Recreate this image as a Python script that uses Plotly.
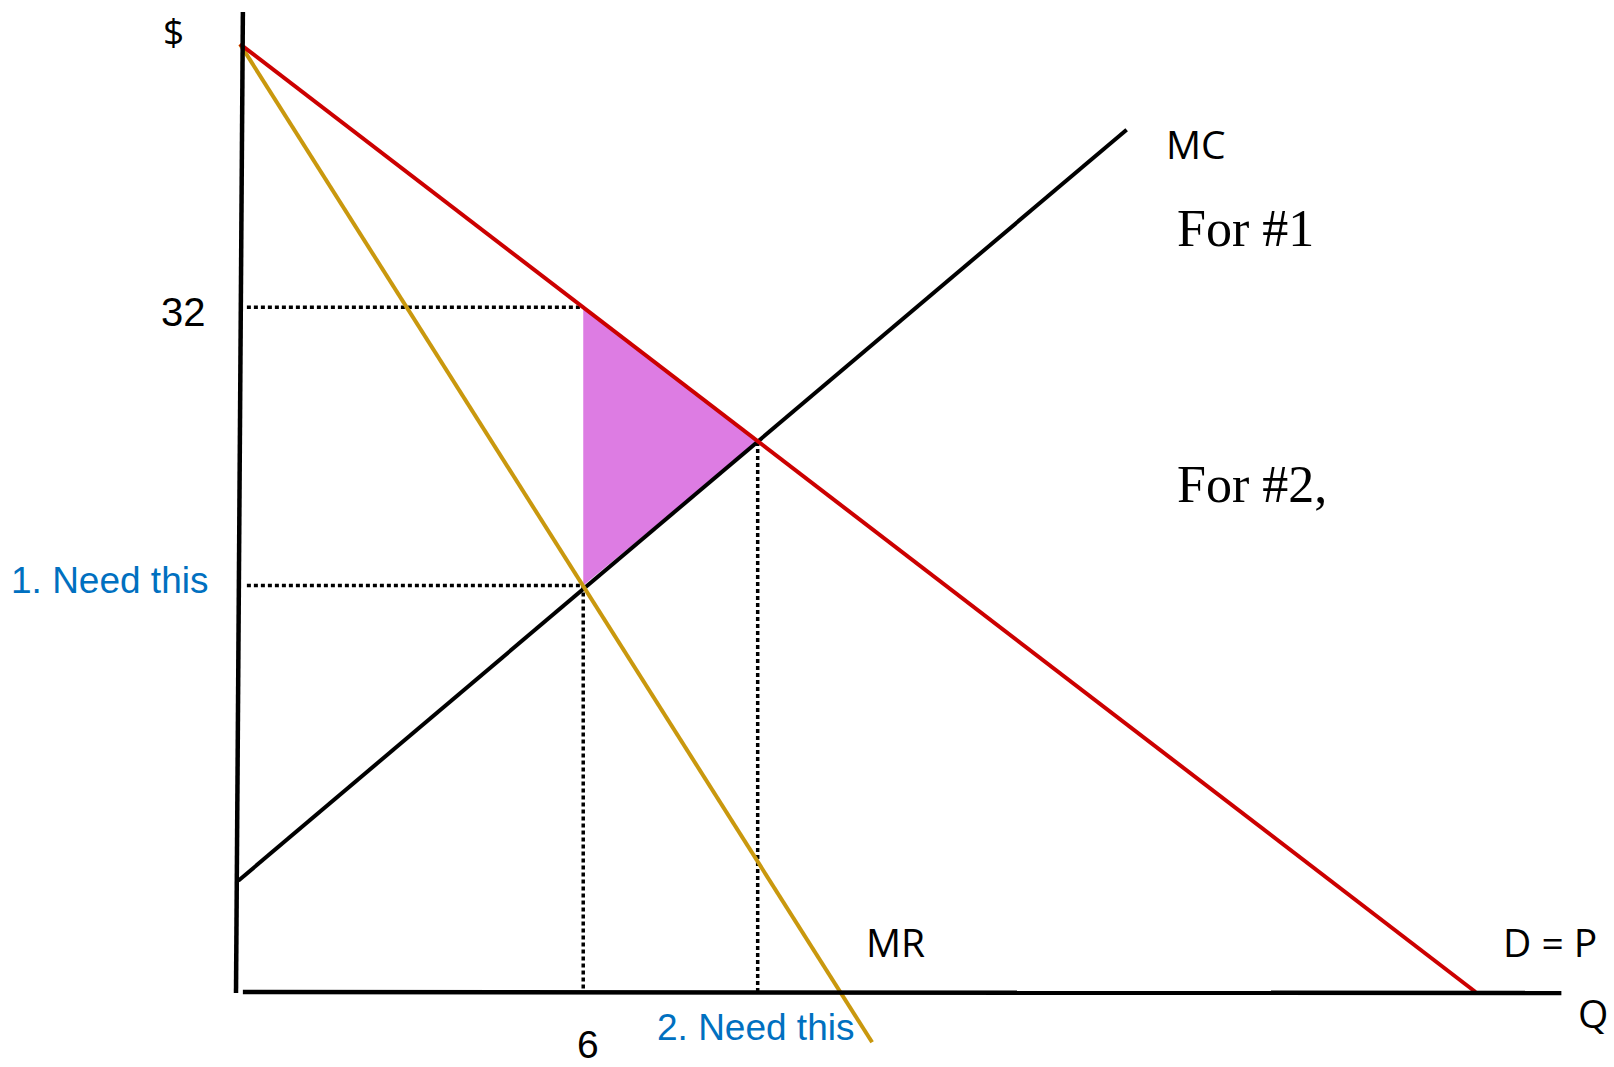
import plotly.graph_objects as go

# ---- data (arbitrary Q / $ units) ----
demand_q = [0.0, 21.6]
demand_p = [44.3, 0.0]
mr_q = [0.0, 11.05]
mr_p = [44.3, -2.35]
mc_q = [-0.03, 15.5]
mc_p = [5.2, 40.3]

yaxis_q = [-0.07, 0.05]
yaxis_p = [-0.05, 45.8]
xaxis_q = [0.05, 23.1]
xaxis_p = [0.0, -0.05]

q_mono = 6.0
p_mono = 32.0
mc_at_mono = 19.0
q_eff = 9.05
p_eff = 25.7
dot_start_q = 0.12

dwl_q = [q_mono, q_eff, q_mono, q_mono]
dwl_p = [p_mono, p_eff, mc_at_mono, p_mono]

tick_y_label = "32"
tick_x_label = "6"

RED = "#CC0000"
GOLD = "#C9980E"
MAGENTA = "#DD7CE3"
BLUE = "#0070C0"

fig = go.Figure()

# deadweight-loss triangle
fig.add_trace(go.Scatter(x=dwl_q, y=dwl_p, mode="lines", fill="toself",
                         fillcolor=MAGENTA, line=dict(width=0, color=MAGENTA),
                         hoverinfo="skip", showlegend=False))

dot = "4px,3px"
DW = 3.5
# dotted guides
fig.add_trace(go.Scatter(x=[dot_start_q, q_mono], y=[p_mono, p_mono], mode="lines",
                         line=dict(color="black", width=DW, dash=dot), showlegend=False))
fig.add_trace(go.Scatter(x=[dot_start_q, q_mono], y=[mc_at_mono, mc_at_mono], mode="lines",
                         line=dict(color="black", width=DW, dash=dot), showlegend=False))
fig.add_trace(go.Scatter(x=[q_mono, q_mono], y=[mc_at_mono, 0], mode="lines",
                         line=dict(color="black", width=DW, dash=dot), showlegend=False))
fig.add_trace(go.Scatter(x=[q_eff, q_eff], y=[p_eff, 0], mode="lines",
                         line=dict(color="black", width=DW, dash=dot), showlegend=False))

# curves
fig.add_trace(go.Scatter(x=mc_q, y=mc_p, mode="lines",
                         line=dict(color="black", width=4), showlegend=False))
fig.add_trace(go.Scatter(x=mr_q, y=mr_p, mode="lines",
                         line=dict(color=GOLD, width=4), showlegend=False))
fig.add_trace(go.Scatter(x=demand_q, y=demand_p, mode="lines",
                         line=dict(color=RED, width=4), showlegend=False))

# drawn axes
fig.add_trace(go.Scatter(x=yaxis_q, y=yaxis_p, mode="lines",
                         line=dict(color="black", width=4.5), showlegend=False))
fig.add_trace(go.Scatter(x=xaxis_q, y=xaxis_p, mode="lines",
                         line=dict(color="black", width=4.5), showlegend=False))

SANS = "Open Sans"
ARIAL = "Liberation Sans"
SERIF = "Liberation Serif"

def ann(x, y, text, family, size, color="black", xanchor="left"):
    fig.add_annotation(x=x, y=y, text=text, showarrow=False, xanchor=xanchor,
                       yanchor="middle", font=dict(family=family, size=size, color=color))

ann(-1.17, 44.95, "$", SANS, 37, xanchor="center")
ann(-0.56, 31.8, tick_y_label, ARIAL, 40, xanchor="right")
ann(-0.52, 19.25, "1. Need this", ARIAL, 37, BLUE, xanchor="right")
ann(16.15, 39.65, "MC", SANS, 39)
ann(16.35, 35.7, "For #1", SERIF, 52)
ann(16.35, 23.7, "For #2,", SERIF, 52)
ann(10.9, 2.34, "MR", SANS, 39)
ann(22.05, 2.34, "D = P", SANS, 39)
ann(23.35, -0.98, "Q", SANS, 39)
ann(6.08, -2.45, tick_x_label, ARIAL, 39, xanchor="center")
ann(7.25, -1.68, "2. Need this", ARIAL, 37, BLUE)

fig.update_layout(
    width=1614, height=1067, autosize=False,
    margin=dict(l=0, r=0, t=0, b=0),
    paper_bgcolor="white", plot_bgcolor="white",
    xaxis=dict(range=[-4.196, 24.02], visible=False),
    yaxis=dict(range=[-3.505, 46.36], visible=False),
    showlegend=False,
)

fig.write_html("out.html", config={"displayModeBar": False},
               post_script="document.body.style.margin='0';document.body.style.overflow='hidden';")
